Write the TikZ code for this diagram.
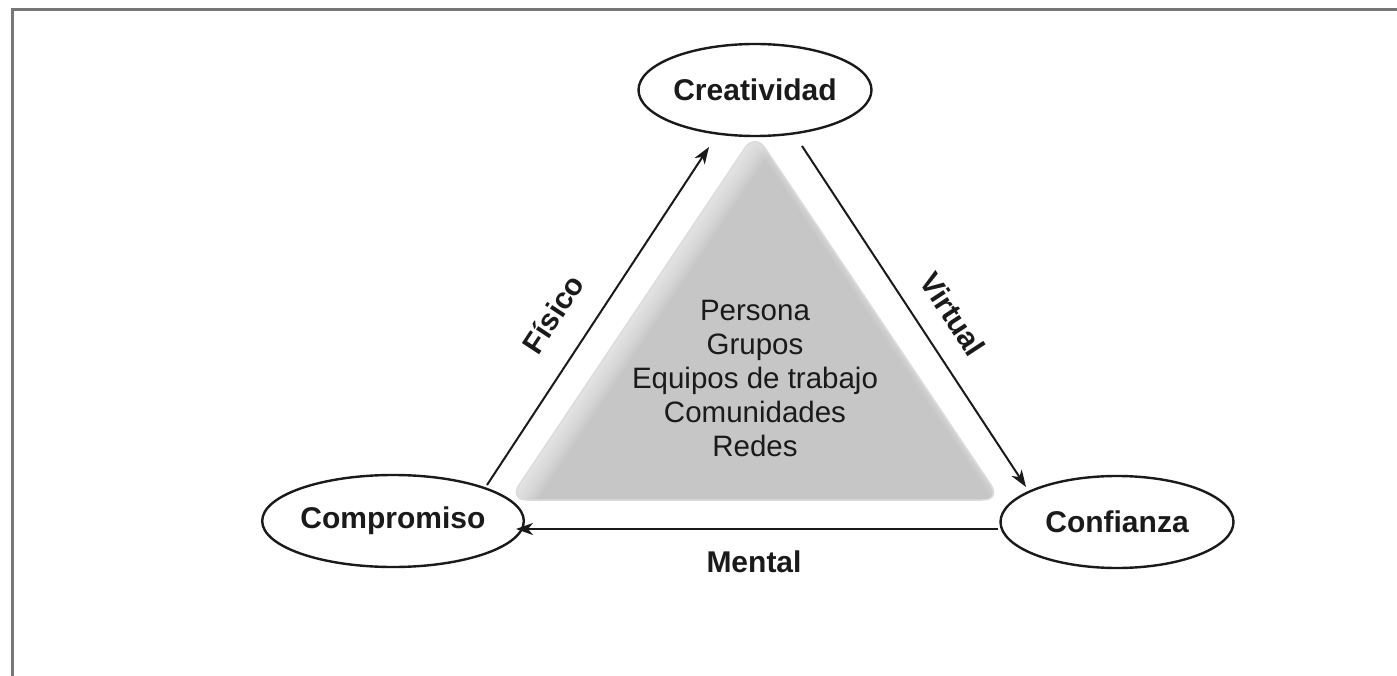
\documentclass[tikz,border=0pt]{standalone}
\usepackage{fontspec}
\setmainfont{Liberation Sans}
\usetikzlibrary{arrows.meta,shapes.geometric}
\definecolor{framegray}{HTML}{777777}
\definecolor{trifill}{HTML}{C6C6C6}
\definecolor{triedge}{HTML}{DCDCDC}
\definecolor{ink}{HTML}{1A1A1A}
\tikzset{
  bubble/.style={ellipse, draw=ink, line width=2.4pt, minimum width=233pt, minimum height=92pt, inner sep=0pt, font=\fontsize{30}{34}\selectfont\bfseries, text=ink},
  flow/.style={draw=ink, line width=2pt, -{Stealth[length=17pt,width=12pt,inset=5pt]}},
  edgelabel/.style={font=\fontsize{30}{34}\selectfont\bfseries, text=ink, inner sep=0pt},
  inner/.style={font=\fontsize{29.5}{34}\selectfont, text=ink, align=center, inner sep=0pt}
}
\begin{document}
\begin{tikzpicture}[x=1pt,y=-1pt]
\useasboundingbox (0,0) rectangle (1397,676);
\fill[white] (0,0) rectangle (1397,676);
% frame
\draw[framegray, line width=3pt] (12,676) -- (12,10) -- (1397,10);
% triangle
\coordinate (tA) at (755,133);
\coordinate (tL) at (509,500);
\coordinate (tR) at (1001,500);
\begin{scope}
\clip[rounded corners=18pt] (tA) -- (tR) -- (tL) -- cycle;
\fill[trifill] (400,100) rectangle (1100,520);
\foreach \w in {6,10,...,46} {
  \draw[white, line width=\w pt, opacity=0.07] (tA) -- (tL);
}
\foreach \w in {4,8,12} {
  \draw[white, line width=\w pt, opacity=0.08] (tA) -- (tR);
}
\end{scope}
\draw[triedge, line width=1.5pt, rounded corners=18pt] (tA) -- (tR) -- (tL) -- cycle;
% nodes
\node[bubble] (crea) at (755,90) {Creatividad};
\node[bubble] (comp) at (393,521) {Compromiso};
\node[bubble] (conf) at (1117,522) {Confianza};
\node[inner] (center) at (755,378) {Persona\\Grupos\\Equipos de trabajo\\Comunidades\\Redes};
% connector ends
\coordinate (fA) at (487,485);
\coordinate (fB) at (709,147);
\coordinate (vA) at (802,146);
\coordinate (vB) at (1026,487);
\coordinate (mA) at (998,529);
\coordinate (mB) at (516,529);
\draw[flow] (fA) -- (fB);
\draw[flow] (vA) -- (vB);
\draw[flow] (mA) -- (mB);
% labels
\node[edgelabel, rotate=56.7] (fis) at (553,314) {Físico};
\node[edgelabel, rotate=-56.8] (vir) at (953,314) {Virtual};
\node[edgelabel] (men) at (754,562) {Mental};
\end{tikzpicture}
\end{document}
